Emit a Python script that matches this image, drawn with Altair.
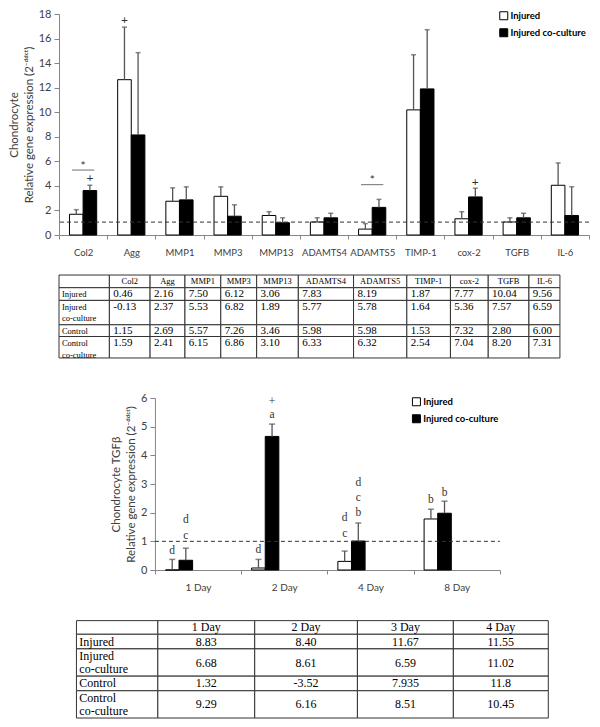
import altair as alt
import pandas as pd

# ---------------- data: upper chart ----------------
GENES = ["Col2", "Agg", "MMP1", "MMP3", "MMP13", "ADAMTS4", "ADAMTS5",
         "TIMP-1", "cox-2", "TGFB", "IL-6"]
SERIES = ["Injured", "Injured co-culture"]
INJ_MEAN = [1.69, 12.65, 2.75, 3.15, 1.59, 1.06, 0.48, 10.19, 1.32, 1.06, 4.05]
INJ_UPPER = [2.06, 16.93, 3.84, 3.92, 1.90, 1.40, 0.93, 14.68, 1.90, 1.40, 5.87]
CC_MEAN = [3.62, 8.15, 2.86, 1.53, 1.00, 1.40, 2.25, 11.90, 3.10, 1.40, 1.59]
CC_UPPER = [4.05, 14.85, 3.92, 2.46, 1.40, 1.77, 2.90, 16.72, 3.81, 1.77, 3.94]
PLUS_GENE = ["Col2", "Agg", "cox-2"]
PLUS_SERIES = ["Injured co-culture", "Injured", "Injured co-culture"]
PLUS_Y = [4.63, 17.5, 4.3]
STAR_GENE = ["Col2", "ADAMTS5"]
STAR_Y = [5.6, 4.5]
STAR_LINE_Y = [5.29, 4.1]
TOP_REF = [1.05]

# ---------------- data: lower chart ----------------
DAYS = ["1 Day", "2 Day", "4 Day", "8 Day"]
TGF_INJ_MEAN = [0.0, 0.07, 0.30, 1.78]
TGF_INJ_UPPER = [0.37, 0.37, 0.66, 2.12]
TGF_CC_MEAN = [0.34, 4.66, 1.01, 1.98]
TGF_CC_UPPER = [0.76, 5.09, 1.64, 2.40]
LET_DAY = ["1 Day", "1 Day", "1 Day", "2 Day", "2 Day", "2 Day", "4 Day", "4 Day",
           "4 Day", "4 Day", "4 Day", "8 Day", "8 Day"]
LET_SERIES = ["Injured", "Injured co-culture", "Injured co-culture", "Injured",
              "Injured co-culture", "Injured co-culture", "Injured", "Injured",
              "Injured co-culture", "Injured co-culture", "Injured co-culture",
              "Injured", "Injured co-culture"]
LET_TEXT = ["d", "c", "d", "d", "a", "+", "c", "d", "b", "c", "d", "b", "b"]
LET_Y = [0.67, 1.19, 1.74, 0.71, 5.40, 5.86, 1.25, 1.80, 2.0, 2.51, 3.04, 2.43, 2.67]
BOT_REF_START = ["1 Day"]
BOT_REF_END = ["8 Day"]
BOT_REF = [1.0]

# ---------------- data: tables ----------------
T_ROWS = ["Injured", "Injured\nco-culture", "Control", "Control\nco-culture"]
T1_HEADER = ["Col2", "Agg", "MMP1", "MMP3", "MMP13", "ADAMTS4", "ADAMTS5",
             "TIMP-1", "cox-2", "TGFB", "IL-6"]
T1_INJURED = ["0.46", "2.16", "7.50", "6.12", "3.06", "7.83", "8.19", "1.87", "7.77", "10.04", "9.56"]
T1_INJURED_CO = ["-0.13", "2.37", "5.53", "6.82", "1.89", "5.77", "5.78", "1.64", "5.36", "7.57", "6.59"]
T1_CONTROL = ["1.15", "2.69", "5.57", "7.26", "3.46", "5.98", "5.98", "1.53", "7.32", "2.80", "6.00"]
T1_CONTROL_CO = ["1.59", "2.41", "6.15", "6.86", "3.10", "6.33", "6.32", "2.54", "7.04", "8.20", "7.31"]
T2_HEADER = ["1 Day", "2 Day", "3 Day", "4 Day"]
T2_INJURED = ["8.83", "8.40", "11.67", "11.55"]
T2_INJURED_CO = ["6.68", "8.61", "6.59", "11.02"]
T2_CONTROL = ["1.32", "-3.52", "7.935", "11.8"]
T2_CONTROL_CO = ["9.29", "6.16", "8.51", "10.45"]

# ---------------- layout (not data) ----------------
W = 530
H_TOP, H_T1, H_BOT, H_T2 = 221, 163, 172, 149
REF_SPAN = [53, 600]
XS = W / (REF_SPAN[1] - REF_SPAN[0])
BOT_RANGE = [(152 - 53) * XS, (508 - 53) * XS]
T1_XE = [53, 105, 147, 183, 220, 257, 300, 357, 412, 457, 496, 538, 570]
T1_YE = [271, 284, 297, 322, 334, 356]
T1_REGION = [230, 397]
T2_XE = [71, 155, 255, 361, 460, 558]
T2_YE = [626, 640, 655, 683, 698, 726]
T2_REGION = [574, 727]

SANS = "Lato"
SERIF = "Liberation Serif"
AX = "#868686"
TXT = "#404040"
SUP = "Relative gene expression (2\u207b\u1d48\u1d48\u1d9c\u1d57)"


def legend(x, y):
    return alt.Legend(title=None, orient="none", legendX=x, legendY=y,
                      symbolType="square", symbolSize=64, symbolStrokeColor="black",
                      symbolStrokeWidth=1, labelFont=SANS, labelFontSize=9.5,
                      labelFontWeight="bold", labelColor="black", rowPadding=4,
                      labelOffset=2, padding=0, direction="vertical")


def yaxis(count, title, offset=0):
    return alt.Axis(tickCount=count, title=title, grid=False, offset=offset, tickSize=5,
                    labelPadding=3, labelOverlap=False, labelBound=False, labelFlush=False,
                    domainColor=AX, tickColor=AX, labelFont=SANS, labelFontSize=11,
                    labelColor=TXT, titleFont=SANS, titleFontSize=11.5,
                    titleFontWeight="normal", titleColor=TXT, titlePadding=4,
                    titleLineHeight=15)


def xaxis(size):
    return alt.Axis(title=None, labelAngle=0, tickBand="extent", tickSize=4, labelPadding=8,
                    labelOverlap=False, domainColor=AX, tickColor=AX, labelFont=SANS,
                    labelFontSize=size, labelColor=TXT)


def bar_panel(cats, means_a, upper_a, means_b, upper_b, xscale, xax, yscale, yax,
              bar_pad, cap, leg):
    df = pd.DataFrame({
        "cat": cats * 2,
        "series": [SERIES[0]] * len(cats) + [SERIES[1]] * len(cats),
        "mean": means_a + means_b,
        "upper": upper_a + upper_b,
    })
    xoff = alt.XOffset("series:N", scale=alt.Scale(domain=SERIES, paddingInner=0,
                                                   paddingOuter=bar_pad))
    base = alt.Chart(df)
    bars = base.mark_bar(stroke="black", strokeWidth=1).encode(
        x=alt.X("cat:N", scale=xscale, axis=xax),
        xOffset=xoff,
        y=alt.Y("mean:Q", scale=yscale, axis=yax),
        fill=alt.Fill("series:N", scale=alt.Scale(domain=SERIES, range=["white", "black"]),
                      legend=leg),
    )
    err = base.mark_rule(color="#555555", strokeWidth=1.3).encode(
        x=alt.X("cat:N"), xOffset=xoff, y="mean:Q", y2="upper:Q")
    caps = base.mark_tick(color="#555555", thickness=1.5, size=cap, orient="horizontal").encode(
        x=alt.X("cat:N"), xOffset=xoff, y="upper:Q")
    return bars, err, caps, xoff


# ---------------- upper chart ----------------
top_x = alt.Scale(domain=GENES, paddingInner=0, paddingOuter=0)
top_y = alt.Scale(domain=[0, 18], nice=False)
bars, err, caps, xoff = bar_panel(GENES, INJ_MEAN, INJ_UPPER, CC_MEAN, CC_UPPER, top_x,
                                  xaxis(9.5), top_y,
                                  yaxis(10, ["Chondrocyte", SUP]),
                                  0.77, 5, legend(440, -3))
plus = alt.Chart(pd.DataFrame({"cat": PLUS_GENE, "series": PLUS_SERIES, "y": PLUS_Y})).mark_text(
    font=SANS, fontSize=12, color="#333333", baseline="middle").encode(
    x=alt.X("cat:N"), xOffset=xoff, y="y:Q", text=alt.value("+"))
star = alt.Chart(pd.DataFrame({"cat": STAR_GENE, "y": STAR_Y})).mark_text(
    font=SANS, fontSize=12, color="#333333", baseline="middle").encode(
    x=alt.X("cat:N"), y="y:Q", text=alt.value("*"))
sig = alt.Chart(pd.DataFrame({"cat": STAR_GENE, "y": STAR_LINE_Y})).mark_tick(
    orient="horizontal", size=23 * XS, thickness=1, color="#333333").encode(
    x=alt.X("cat:N"), y="y:Q")
ref_top = alt.Chart(pd.DataFrame({"level": TOP_REF})).mark_rule(
    strokeDash=[4, 3], color="#333333", strokeWidth=1).encode(y="level:Q")
top = alt.layer(bars, ref_top, err, caps, plus, star, sig).properties(width=W, height=H_TOP)

# ---------------- lower chart ----------------
bot_x = alt.Scale(domain=DAYS, paddingInner=0, paddingOuter=0, range=BOT_RANGE)
bot_y = alt.Scale(domain=[0, 6], nice=False)
bbars, berr, bcaps, bxoff = bar_panel(DAYS, TGF_INJ_MEAN, TGF_INJ_UPPER, TGF_CC_MEAN,
                                      TGF_CC_UPPER, bot_x, xaxis(10), bot_y,
                                      yaxis(7, ["Chondrocyte TGF\u03b2", SUP],
                                            offset=-BOT_RANGE[0]),
                                      0.71, 6, legend((417 - 53) * XS, -1))
letters = alt.Chart(pd.DataFrame({"cat": LET_DAY, "series": LET_SERIES, "t": LET_TEXT,
                                  "y": LET_Y})).mark_text(
    font=SERIF, fontSize=11.5, color="#333333", baseline="middle").encode(
    x=alt.X("cat:N"), xOffset=bxoff, y="y:Q", text="t:N")
ref_bot = alt.Chart(pd.DataFrame({"s": BOT_REF_START, "e": BOT_REF_END, "level": BOT_REF})).mark_rule(
    strokeDash=[4, 3], color="#333333", strokeWidth=1).encode(
    x=alt.X("s:N", bandPosition=0), x2=alt.X2("e", bandPosition=1), y="level:Q")
bottom = alt.layer(bbars, ref_bot, berr, bcaps, letters).properties(width=W, height=H_BOT)


# ---------------- tables ----------------
def table_chart(header, rows, values, xe, ye, region, height, compact):
    cells = []
    for r in range(len(ye) - 1):
        for c in range(len(xe) - 1):
            cells.append({"x0": xe[c], "x1": xe[c + 1], "y0": ye[r], "y1": ye[r + 1]})
    heads = [{"tx": (xe[c + 1] + xe[c + 2]) / 2, "ty": (ye[0] + ye[1]) / 2, "t": h}
             for c, h in enumerate(header)]
    labels, vals = [], []
    for r, lab in enumerate(rows):
        lines = lab.split("\n")
        top_, bot_ = ye[r + 1], ye[r + 2]
        for i, line in enumerate(lines):
            if compact:
                ty = top_ + 6.5 + i * 12
            else:
                ty = (top_ + bot_) / 2 + (i - (len(lines) - 1) / 2) * 14
            labels.append({"tx": xe[0] + 3, "ty": ty, "t": line})
        for c, v in enumerate(values[r]):
            if compact:
                vals.append({"tx": xe[c + 1] + 4, "ty": top_ + 6.5, "t": v})
            else:
                vals.append({"tx": (xe[c + 1] + xe[c + 2]) / 2, "ty": (top_ + bot_) / 2, "t": v})
    xsc = alt.Scale(domain=REF_SPAN, nice=False, zero=False)
    ysc = alt.Scale(domain=region, reverse=True, nice=False, zero=False)
    rect = alt.Chart(pd.DataFrame(cells)).mark_rect(
        fill="white", stroke="#333333", strokeWidth=1).encode(
        x=alt.X("x0:Q", scale=xsc, axis=None), x2="x1:Q",
        y=alt.Y("y0:Q", scale=ysc, axis=None), y2="y1:Q")
    small = 8.5 if compact else 12
    num = 11 if compact else 12

    def txt(d, align, size):
        return alt.Chart(pd.DataFrame(d)).mark_text(
            align=align, baseline="middle", font=SERIF, fontSize=size, color="black").encode(
            x=alt.X("tx:Q", scale=xsc, axis=None), y=alt.Y("ty:Q", scale=ysc, axis=None),
            text="t:N")
    layers = [rect, txt(heads, "center", small), txt(labels, "left", small),
              txt(vals, "left" if compact else "center", num)]
    return alt.layer(*layers).properties(width=W, height=height)


t1 = table_chart(T1_HEADER, T_ROWS, [T1_INJURED, T1_INJURED_CO, T1_CONTROL, T1_CONTROL_CO],
                 T1_XE, T1_YE, T1_REGION, H_T1, True)
t2 = table_chart(T2_HEADER, T_ROWS, [T2_INJURED, T2_INJURED_CO, T2_CONTROL, T2_CONTROL_CO],
                 T2_XE, T2_YE, T2_REGION, H_T2, False)

chart = alt.vconcat(top, t1, bottom, t2, spacing=0, bounds="flush", padding=0).resolve_scale(
    fill="independent").resolve_legend(fill="independent").configure_view(
    stroke=None).configure_axis(labelOverlap=False)

chart.save("out.html", embed_options={"renderer": "svg", "actions": False})
